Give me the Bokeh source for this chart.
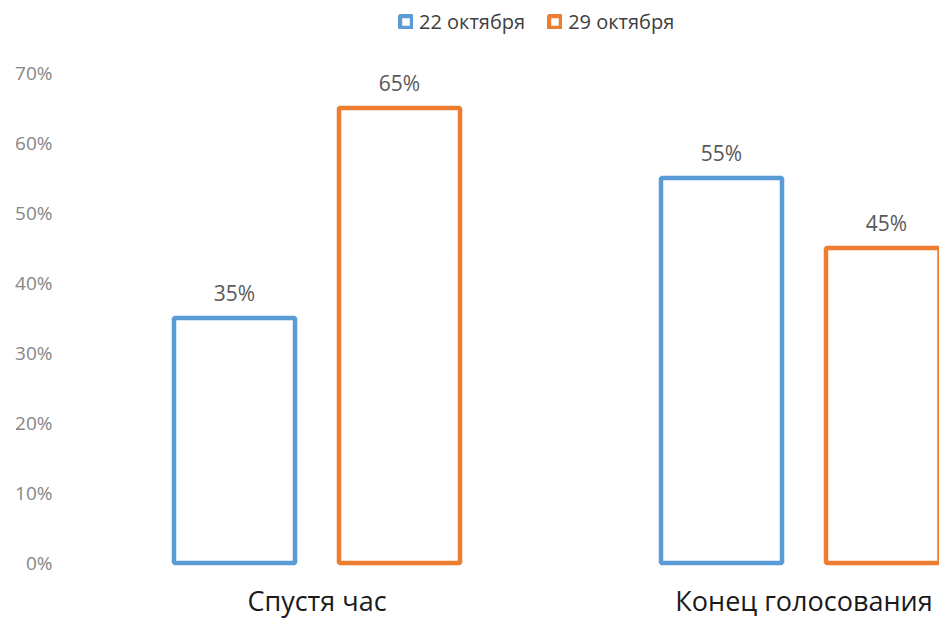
from bokeh.plotting import figure
from bokeh.models import (ColumnDataSource, Range1d, FixedTicker, NumeralTickFormatter,
                          Legend, LegendItem)
from bokeh.core.properties import value
from bokeh.embed import file_html
from bokeh.resources import INLINE

categories = ["Спустя час", "Конец голосования"]
series_names = ["22 октября", "29 октября"]
values_oct22 = [0.35, 0.55]
values_oct29 = [0.65, 0.45]
y_ticks = [0.0, 0.1, 0.2, 0.3, 0.4, 0.5, 0.6, 0.7]

colors = ["#5B9BD5", "#ED7D31"]
FONT = "Open Sans"

cat_x = [i + 0.5 for i in range(len(categories))]
offset = 0.1694
bar_w = 0.2485

p = figure(width=939, height=620, output_backend="svg", toolbar_location=None,
           x_range=Range1d(0, 1.7782), y_range=Range1d(-0.0821, 0.8036),
           min_border_left=73, min_border_right=0, min_border_top=0, min_border_bottom=0)
p.outline_line_color = None
p.xgrid.visible = False
p.ygrid.visible = False
p.xaxis.visible = False

ya = p.yaxis[0]
ya.ticker = FixedTicker(ticks=y_ticks)
ya.formatter = NumeralTickFormatter(format="0%")
ya.axis_line_color = None
ya.major_tick_line_color = None
ya.minor_tick_line_color = None
ya.major_tick_out = 0
ya.major_label_standoff = 21
ya.major_label_text_font = FONT
ya.major_label_text_font_size = "19px"
ya.major_label_text_color = "#868686"

renderers = []
for k, (vals, col) in enumerate(zip([values_oct22, values_oct29], colors)):
    xs = [c + (-offset if k == 0 else offset) for c in cat_x]
    src = ColumnDataSource(dict(x=xs, top=vals,
                                lab=[f"{round(v*100)}%" for v in vals]))
    r = p.vbar(x="x", top="top", bottom=0, width=bar_w, source=src,
               fill_color="white", line_color=col, line_width=4.5)
    renderers.append(r)
    p.text(x="x", y="top", text="lab", source=src, text_align="center",
           text_baseline="alphabetic", y_offset=-25, text_font=value(FONT),
           text_font_size="21px", text_color="#595959")

cat_src = ColumnDataSource(dict(x=cat_x, y=[0] * len(categories), t=categories))
p.text(x="x", y="y", text="t", source=cat_src, text_align="center",
       text_baseline="alphabetic", y_offset=37, text_font=value(FONT),
       text_font_size="27px", text_color="#1a1a1a")

legend = Legend(items=[LegendItem(label=n, renderers=[r]) for n, r in zip(series_names, renderers)],
                orientation="horizontal", location=(325, 585))
legend.padding = 0
legend.margin = 0
legend.spacing = 22
legend.glyph_width = 15
legend.glyph_height = 15
legend.label_height = 20
legend.label_standoff = 6
legend.border_line_color = None
legend.background_fill_alpha = 0
legend.label_text_font = FONT
legend.label_text_font_size = "20px"
legend.label_text_color = "#404040"
p.add_layout(legend, "center")

open("out.html", "w").write(file_html(p, INLINE))
